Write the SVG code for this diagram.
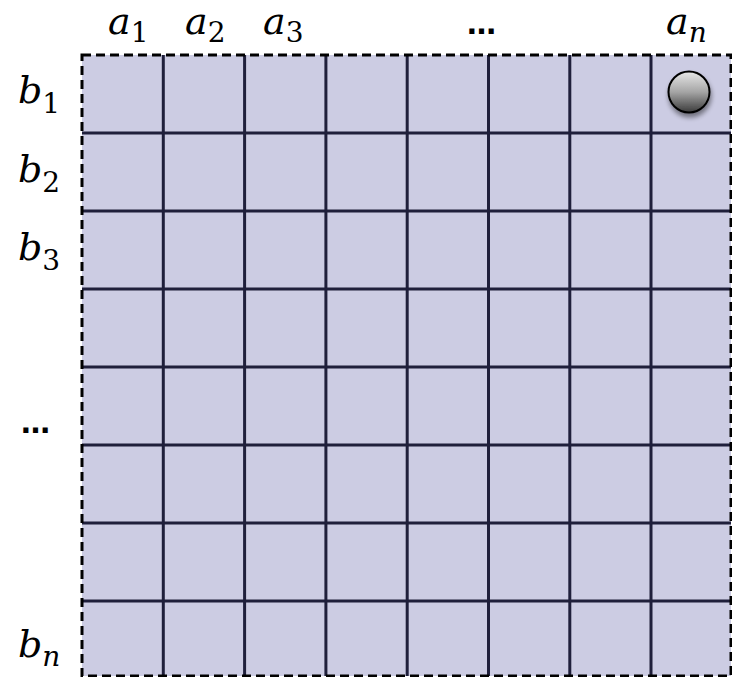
<svg xmlns="http://www.w3.org/2000/svg" width="732" height="677" viewBox="0 0 732 677">
<style>
.lab{font-family:"DejaVu Serif","Liberation Serif",serif;font-style:italic;font-size:38px;fill:#000}
.sub{font-family:"DejaVu Serif","Liberation Serif",serif;font-style:normal;font-size:28px}
.subi{font-family:"DejaVu Serif","Liberation Serif",serif;font-style:italic;font-size:28px}
.dots{font-family:"DejaVu Sans","Liberation Sans",sans-serif;font-weight:bold;font-size:29px;fill:#000}
.grid{stroke:#1f1f3b;stroke-width:3;fill:none}
</style>
<defs>
<linearGradient id="ballg" x1="0" y1="0" x2="0" y2="1">
<stop offset="0" stop-color="#e8e8e8"/>
<stop offset="0.5" stop-color="#a5a5a5"/>
<stop offset="1" stop-color="#3a3a3a"/>
</linearGradient>
<filter id="sh" x="-50%" y="-50%" width="200%" height="200%">
<feGaussianBlur in="SourceAlpha" stdDeviation="2.5"/>
<feOffset dx="1" dy="4" result="b"/>
<feComponentTransfer><feFuncA type="linear" slope="0.45"/></feComponentTransfer>
<feMerge><feMergeNode/><feMergeNode in="SourceGraphic"/></feMerge>
</filter>
</defs>
<g id="board">
<rect x="82" y="55" width="649" height="621" fill="#cccce3"/>
<g class="grid">
<line x1="163.3" y1="55" x2="163.3" y2="676"/>
<line x1="244.6" y1="55" x2="244.6" y2="676"/>
<line x1="325.9" y1="55" x2="325.9" y2="676"/>
<line x1="407.2" y1="55" x2="407.2" y2="676"/>
<line x1="488.5" y1="55" x2="488.5" y2="676"/>
<line x1="569.8" y1="55" x2="569.8" y2="676"/>
<line x1="651" y1="55" x2="651" y2="676"/>
<line x1="82" y1="133" x2="731" y2="133"/>
<line x1="82" y1="211" x2="731" y2="211"/>
<line x1="82" y1="289" x2="731" y2="289"/>
<line x1="82" y1="367" x2="731" y2="367"/>
<line x1="82" y1="445" x2="731" y2="445"/>
<line x1="82" y1="523" x2="731" y2="523"/>
<line x1="82" y1="601" x2="731" y2="601"/>
</g>
<rect x="82" y="55" width="649" height="621" fill="none" stroke="#000" stroke-width="3" stroke-dasharray="9 5"/>
</g>
<g id="ball" filter="url(#sh)">
<circle cx="689" cy="92" r="20.5" fill="url(#ballg)" stroke="#000" stroke-width="2"/>
</g>
<g id="col-labels">
<text class="lab" x="108" y="34">a<tspan class="sub" y="42">1</tspan></text>
<text class="lab" x="185" y="34">a<tspan class="sub" y="42">2</tspan></text>
<text class="lab" x="263" y="34">a<tspan class="sub" y="42">3</tspan></text>
<text class="dots" x="467" y="34">…</text>
<text class="lab" x="666" y="34">a<tspan class="subi" y="42">n</tspan></text>
</g>
<g id="row-labels">
<text class="lab" x="18" y="103">b<tspan class="sub" y="113">1</tspan></text>
<text class="lab" x="18" y="182">b<tspan class="sub" y="192">2</tspan></text>
<text class="lab" x="18" y="260">b<tspan class="sub" y="270">3</tspan></text>
<text class="dots" x="21" y="433">…</text>
<text class="lab" x="18" y="657">b<tspan class="subi" y="666">n</tspan></text>
</g>
</svg>
